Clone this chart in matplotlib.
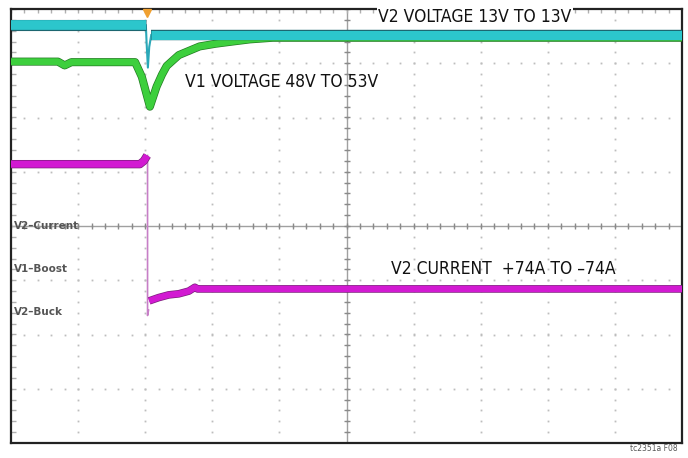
import numpy as np
import matplotlib
matplotlib.use("Agg")
import matplotlib.pyplot as plt
import matplotlib.patheffects as pe

# screen divisions: 10 horizontal, 8 vertical (centre = 0)
cyan_t1 = [0.0, 1.0, 2.01]
cyan_v1 = [3.70, 3.70, 3.70]
cyan_spike_t = [2.01, 2.02, 2.04, 2.06, 2.09]
cyan_spike_v = [3.70, 3.40, 2.92, 3.30, 3.52]
cyan_t2 = [2.08, 2.3, 10.0]
cyan_v2 = [3.52, 3.52, 3.52]

green_t = [0.0, 0.7, 0.8, 0.9, 1.85, 1.95, 2.07, 2.17, 2.25, 2.32, 2.5, 2.81, 3.05, 3.30, 3.56, 3.9, 10.0]
green_v = [3.03, 3.03, 2.96, 3.02, 3.02, 2.75, 2.20, 2.57, 2.79, 2.95, 3.15, 3.31, 3.36, 3.40, 3.44, 3.47, 3.47]

mag_t1 = [0.0, 1.92, 1.98, 2.03]
mag_v1 = [1.14, 1.14, 1.20, 1.30]
mag_step_t = [2.035, 2.035, 2.05]
mag_step_v = [1.30, -1.65, -1.55]
mag_t2 = [2.06, 2.2, 2.35, 2.5, 2.65, 2.74, 2.78, 10.0]
mag_v2 = [-1.38, -1.32, -1.27, -1.25, -1.2, -1.13, -1.16, -1.16]

labels = ["V2\u2013Current", "V1\u2013Boost", "V2\u2013Buck"]
label_y = [0.0, -0.8, -1.58]

fig = plt.figure(figsize=(6.88, 4.58), dpi=100)
ax = fig.add_axes([11/688, 15/458, 671/688, 434/458])
ax.set_xlim(0, 10)
ax.set_ylim(-4, 4)
ax.set_xticks([]); ax.set_yticks([])
for s in ax.spines.values():
    s.set_linewidth(1.6)
    s.set_color("#222222")

# graticule: dotted grid lines
dots = np.arange(0, 10.01, 0.2)
dots_y = np.arange(-4, 4.01, 0.2)
for k in range(1, 10):
    ax.plot(np.full(len(dots_y), k), dots_y, ls="none", marker="s", ms=1.3, color="#bdbdbd", mew=0)
for k in range(-3, 4):
    ax.plot(dots, np.full(len(dots), k), ls="none", marker="s", ms=1.3, color="#bdbdbd", mew=0)
ax.axhline(0, color="#a0a0a0", lw=1.0)
ax.axvline(5, color="#a0a0a0", lw=1.0)
ax.plot(dots, np.zeros(len(dots)), ls="none", marker="|", ms=5, color="#8a8a8a", mew=1)
ax.plot(np.full(len(dots_y), 5), dots_y, ls="none", marker="_", ms=5, color="#8a8a8a", mew=1)
# edge ticks
ax.plot(np.full(len(dots_y), 0.03), dots_y, ls="none", marker="_", ms=4, color="#b0b0b0", mew=1)
ax.plot(dots, np.full(len(dots), 3.98), ls="none", marker="|", ms=4, color="#b0b0b0", mew=1)

# traces
ax.plot(green_t, green_v, color="#3dcf3d", lw=4.8, solid_joinstyle="round", solid_capstyle="butt",
        path_effects=[pe.Stroke(linewidth=5.8, foreground="#237a23"), pe.Normal()], zorder=3)
ax.plot(cyan_spike_t, cyan_spike_v, color="#2aa8b8", lw=1.5, zorder=4)
ax.plot(cyan_t1, cyan_v1, color="#2cc6cc", lw=7, solid_capstyle="butt",
        path_effects=[pe.Stroke(linewidth=8, foreground="#1c6670"), pe.Normal()], zorder=4)
ax.plot(cyan_t2, cyan_v2, color="#2cc6cc", lw=6.5, solid_capstyle="butt",
        path_effects=[pe.Stroke(linewidth=7.5, foreground="#1c6670"), pe.Normal()], zorder=4)
ax.plot(mag_step_t, mag_step_v, color="#c77fc7", lw=1.2, zorder=3)
ax.plot(mag_t1, mag_v1, color="#d21ad2", lw=5, solid_joinstyle="round", solid_capstyle="butt",
        path_effects=[pe.Stroke(linewidth=6, foreground="#7a1f7a"), pe.Normal()], zorder=4)
ax.plot(mag_t2, mag_v2, color="#d21ad2", lw=4.5, solid_joinstyle="round", solid_capstyle="butt",
        path_effects=[pe.Stroke(linewidth=5.5, foreground="#7a1f7a"), pe.Normal()], zorder=4)

# trigger marker
ax.plot([2.03], [3.93], marker="v", ms=6, color="#f0a030", zorder=5, clip_on=False)

ax.text(5.47, 3.85, "V2 VOLTAGE 13V TO 13V", fontsize=12.5, family="DejaVu Sans", stretch="condensed",
        color="#111111", va="center", ha="left", zorder=6,
        bbox=dict(facecolor="white", edgecolor="none", pad=1.0))
ax.text(2.6, 2.65, "V1 VOLTAGE 48V TO 53V", fontsize=12.5, family="DejaVu Sans", stretch="condensed",
        color="#111111", va="center", ha="left", zorder=6)
ax.text(5.67, -0.8, "V2 CURRENT  +74A TO \u201374A", fontsize=12.5, family="DejaVu Sans", stretch="condensed",
        color="#111111", va="center", ha="left", zorder=6)
for lab, yy in zip(labels, label_y):
    ax.text(0.04, yy, lab, fontsize=7.5, family="DejaVu Sans", weight="bold", color="#555555",
            va="center", ha="left", zorder=6)

fig.text(0.985, 0.012, "tc2351a F08", fontsize=5.5, color="#555555", ha="right", va="bottom")

fig.savefig("out.png", dpi=100)
